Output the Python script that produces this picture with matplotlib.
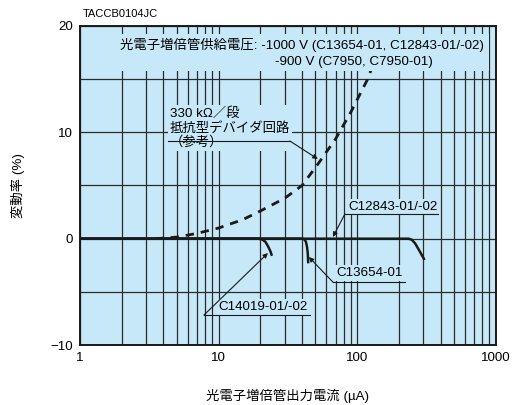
import matplotlib
matplotlib.use("Agg")
import matplotlib.pyplot as plt
from matplotlib.patches import Rectangle
from matplotlib.ticker import LogLocator, NullFormatter, FixedLocator
import numpy as np

plt.rcParams['font.family'] = ['Liberation Sans', 'Noto Sans CJK JP', 'DejaVu Sans']

# output current (uA) vs deviation (%)
cur_c14019 = [1, 19, 20.5, 21.8, 22.8, 23.6, 24.1]
dev_c14019 = [0, 0, -0.05, -0.3, -0.75, -1.15, -1.5]

cur_c13654 = [1, 40, 41.5, 42.7, 43.5, 44.0, 44.3]
dev_c13654 = [0, 0, -0.05, -0.3, -0.8, -1.4, -2.2]

cur_c12843 = [1, 235, 248, 262, 280, 303]
dev_c12843 = [0, 0, -0.1, -0.45, -1.1, -1.9]

cur_divider = [3.5, 5, 7, 10, 15, 20, 30, 40, 52, 70, 90, 119, 140]
dev_divider = [0, 0.15, 0.5, 1.0, 1.8, 2.6, 3.8, 5.0, 7.0, 9.4, 11.9, 15.0, 17.5]

x_ticks = [1, 10, 100, 1000]
x_labels = ['1', '10', '100', '1000']
y_ticks = [-10, 0, 10, 20]
y_minor = [-5, 5, 15]

BG = '#c7e8f8'
GRID = '#2b2b2b'
FS = 9.6

fig = plt.figure(figsize=(5.14, 4.05), dpi=100)
ax = fig.add_axes([0.1556, 0.148, 0.809, 0.788])
ax.set_facecolor(BG)
ax.set_xscale('log')
ax.set_xlim(1, 1000)
ax.set_ylim(-10, 20)
ax.set_xticks(x_ticks)
ax.set_xticklabels(x_labels)
ax.xaxis.set_minor_locator(LogLocator(base=10, subs=np.arange(2, 10)))
ax.xaxis.set_minor_formatter(NullFormatter())
ax.set_yticks(y_ticks)
ax.yaxis.set_minor_locator(FixedLocator(y_minor))
ax.tick_params(which='both', length=0, labelsize=FS, colors='black')
ax.tick_params(axis='x', pad=5)
ax.tick_params(axis='y', pad=5)
ax.grid(True, which='both', color=GRID, lw=0.9)
ax.set_axisbelow(True)
for s in ax.spines.values():
    s.set_linewidth(1.4)
    s.set_color('#1a1a1a')

ax.plot(cur_divider, dev_divider, color='#1a1a1a', lw=2, ls=(0, (3, 2.5)), zorder=3)
ax.plot(cur_c12843, dev_c12843, color='#1a1a1a', lw=1.8, zorder=3)
ax.plot(cur_c13654, dev_c13654, color='#1a1a1a', lw=1.8, zorder=3)
ax.plot(cur_c14019, dev_c14019, color='#1a1a1a', lw=1.8, zorder=3)

# supply voltage box
ax.add_patch(Rectangle((0.084, 0.859), 0.90, 0.116, transform=ax.transAxes,
                       facecolor=BG, edgecolor='none', zorder=4))
ax.text(1.94, 18.2, '光電子増倍管供給電圧: -1000 V (C13654-01, C12843-01/-02)',
        fontsize=FS, va='center', ha='left', zorder=5)
ax.text(25.5, 16.6, '-900 V (C7950, C7950-01)',
        fontsize=FS, va='center', ha='left', zorder=5)

tb = dict(facecolor=BG, edgecolor='none', pad=1.5)
arrow = dict(arrowstyle='-|>', color='#1a1a1a', lw=0.8, mutation_scale=7, shrinkA=0, shrinkB=0)

# divider annotation
ax.text(4.46, 10.4, '330 kΩ／段\n抵抗型デバイダ回路\n（参考）', fontsize=FS, va='center',
        ha='left', linespacing=1.15, bbox=tb, zorder=5)
ax.plot([4.31, 32.7], [9.18, 9.18], color='#1a1a1a', lw=0.8, zorder=6)
ax.annotate('', xy=(52.0, 7.49), xytext=(32.7, 9.18), arrowprops=arrow, zorder=6)

# C12843
ax.text(85.7, 3.0, 'C12843-01/-02', fontsize=FS, va='center', ha='left', bbox=tb, zorder=5)
ax.plot([81.5, 382], [2.32, 2.32], color='#1a1a1a', lw=0.8, zorder=6)
ax.annotate('', xy=(66.8, 0.16), xytext=(81.5, 2.32), arrowprops=arrow, zorder=6)

# C13654
ax.text(71.3, -3.23, 'C13654-01', fontsize=FS, va='center', ha='left', bbox=tb, zorder=5)
ax.plot([66.8, 221], [-4.08, -4.08], color='#1a1a1a', lw=0.8, zorder=6)
ax.annotate('', xy=(44.8, -1.72), xytext=(66.8, -4.08), arrowprops=arrow, zorder=6)

# C14019
ax.text(9.9, -6.43, 'C14019-01/-02', fontsize=FS, va='center', ha='left', bbox=tb, zorder=5)
ax.plot([7.84, 45.6], [-7.18, -7.18], color='#1a1a1a', lw=0.8, zorder=6)
ax.annotate('', xy=(22.7, -1.35), xytext=(7.84, -7.18), arrowprops=arrow, zorder=6)

fig.text(83 / 514, 1 - 14 / 405, 'TACCB0104JC', fontsize=8, va='center', ha='left')
fig.text(18 / 514, 1 - 185 / 405, '変動率 (%)', fontsize=FS, rotation=90,
         va='center', ha='center')
fig.text(288 / 514, 1 - 396 / 405, '光電子増倍管出力電流 (µA)', fontsize=FS,
         va='center', ha='center')

fig.savefig('out.png', dpi=100)
